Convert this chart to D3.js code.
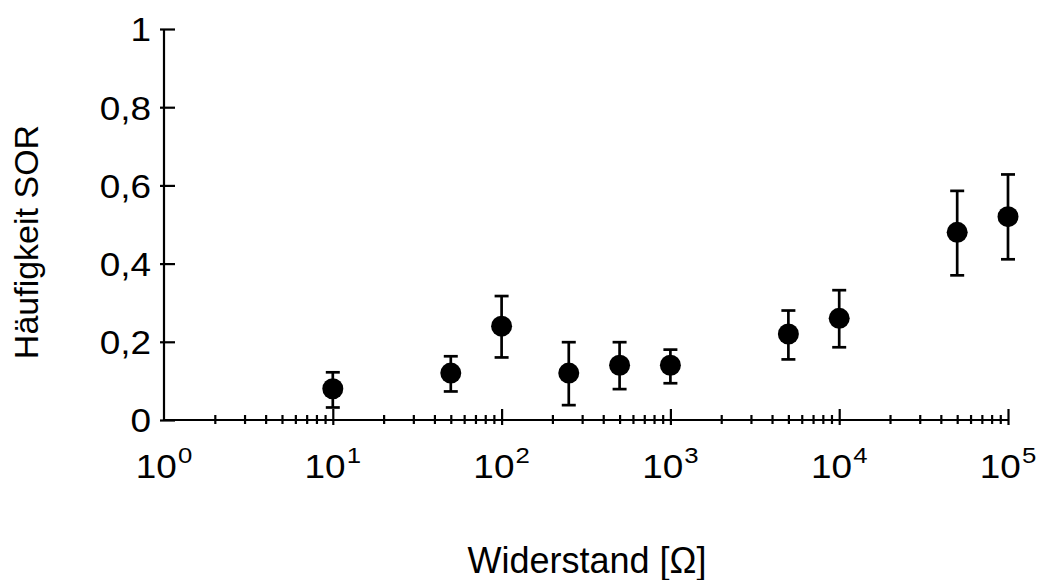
<!DOCTYPE html>
<html>
<head>
<meta charset="utf-8">
<script src="https://cdn.jsdelivr.net/npm/d3@7"></script>
<style>
  html, body { margin: 0; padding: 0; background: #fff; }
  svg { display: block; }
  text { font-family: "Liberation Sans", Arial, Helvetica, sans-serif; fill: #000; }
</style>
</head>
<body>
<svg id="chart" width="1042" height="580"></svg>
<script>
// ---- data ----
const resistance = [10, 50, 100, 250, 500, 1000, 5000, 10000, 50000, 100000];
const frequency  = [0.08, 0.12, 0.24, 0.12, 0.14, 0.14, 0.22, 0.26, 0.48, 0.52];
const errLower   = [0.032, 0.073, 0.16, 0.038, 0.079, 0.094, 0.155, 0.186, 0.37, 0.411];
const errUpper   = [0.122, 0.163, 0.317, 0.199, 0.199, 0.18, 0.28, 0.332, 0.586, 0.628];
const xMajorExponents = [0, 1, 2, 3, 4, 5];
const yTickValues = [0, 0.2, 0.4, 0.6, 0.8, 1];
const yTickLabels = ["0", "0,2", "0,4", "0,6", "0,8", "1"];
const xTitle = "Widerstand [Ω]";
const yTitle = "Häufigkeit SOR";

const svg = d3.select("#chart");
const x = d3.scaleLog().domain([1, 1e5]).range([164, 1008]);
const y = d3.scaleLinear().domain([0, 1]).range([420, 29]);

const axisStroke = 2.2;
const tickFont = 33;
const widen = 1.12;

// ---- x axis ----
const majorVals = xMajorExponents.map(e => Math.pow(10, e));
const minorVals = x.ticks().filter(v => !majorVals.some(m => Math.abs(m - v) < 1e-9));

const gx = svg.append("g").attr("transform", `translate(0,${y(0)})`);
gx.call(d3.axisBottom(x).tickValues(majorVals.slice(1)).tickFormat(() => "").tickSizeOuter(0));
gx.select(".domain").attr("stroke", "#000").attr("stroke-width", axisStroke).attr("d", `M${x(1)},0H${x(1e5)}`);
gx.selectAll(".tick line").attr("stroke", "#000").attr("stroke-width", axisStroke).attr("y1", -11).attr("y2", 5);

const gxm = svg.append("g").attr("transform", `translate(0,${y(0)})`);
gxm.call(d3.axisBottom(x).tickValues(minorVals).tickFormat(() => "").tickSizeOuter(0));
gxm.select(".domain").remove();
gxm.selectAll(".tick line").attr("stroke", "#000").attr("stroke-width", axisStroke).attr("y1", -5).attr("y2", 4);

// x tick labels with superscripts
const xl = svg.append("g");
xMajorExponents.forEach(e => {
  const t = xl.append("g")
    .attr("transform", `translate(${x(Math.pow(10, e))},478) scale(${widen},1)`)
    .append("text")
    .attr("text-anchor", "middle")
    .attr("font-size", tickFont);
  t.append("tspan").text("10");
  t.append("tspan").attr("dx", 1).attr("dy", -15).attr("font-size", 23).text(String(e));
});

// ---- y axis ----
const gy = svg.append("g").attr("transform", `translate(${x(1)},0)`);
gy.call(d3.axisLeft(y).tickValues(yTickValues).tickFormat((d, i) => yTickLabels[i]).tickSizeOuter(0).tickPadding(13));
gy.select(".domain").attr("stroke", "#000").attr("stroke-width", axisStroke).attr("d", `M0,${y(1)}V${y(0)}`);
gy.selectAll(".tick line").attr("stroke", "#000").attr("stroke-width", axisStroke).attr("x1", -4).attr("x2", 11);
gy.selectAll(".tick text")
  .attr("font-size", tickFont)
  .attr("font-family", '"Liberation Sans", Arial, Helvetica, sans-serif')
  .attr("fill", "#000")
  .attr("x", -13 / widen)
  .attr("transform", `scale(${widen},1)`)
  .attr("dy", "0.36em");

// ---- error bars and points ----
const data = resistance.map((r, i) => ({ r, f: frequency[i], lo: errLower[i], hi: errUpper[i] }));
const capHalf = 7;
const eb = svg.append("g").attr("stroke", "#000").attr("stroke-width", 2.7);
eb.selectAll("line.v").data(data).join("line")
  .attr("x1", d => x(d.r)).attr("x2", d => x(d.r))
  .attr("y1", d => y(d.lo)).attr("y2", d => y(d.hi));
eb.selectAll("line.top").data(data).join("line")
  .attr("x1", d => x(d.r) - capHalf).attr("x2", d => x(d.r) + capHalf)
  .attr("y1", d => y(d.hi)).attr("y2", d => y(d.hi));
eb.selectAll("line.bot").data(data).join("line")
  .attr("x1", d => x(d.r) - capHalf).attr("x2", d => x(d.r) + capHalf)
  .attr("y1", d => y(d.lo)).attr("y2", d => y(d.lo));

svg.append("g").selectAll("circle").data(data).join("circle")
  .attr("cx", d => x(d.r)).attr("cy", d => y(d.f)).attr("r", 10.5).attr("fill", "#000");

// ---- titles ----
svg.append("text")
  .attr("x", 587).attr("y", 573)
  .attr("text-anchor", "middle")
  .attr("font-size", 36)
  .text(xTitle);

svg.append("text")
  .attr("transform", `translate(38,242) rotate(-90)`)
  .attr("text-anchor", "middle")
  .attr("font-size", 34)
  .text(yTitle);
</script>
</body>
</html>
